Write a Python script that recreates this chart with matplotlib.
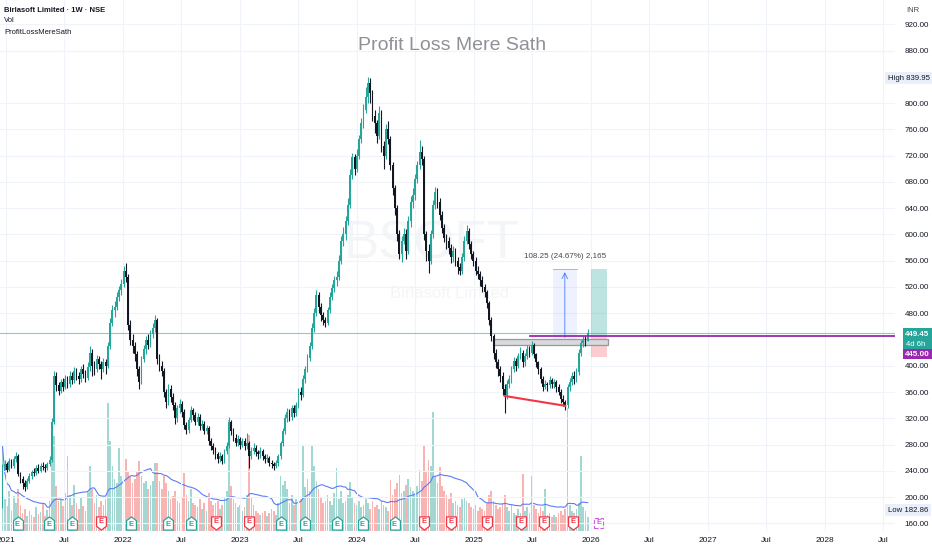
import numpy as np
import pandas as pd
import matplotlib
matplotlib.use('Agg')
import matplotlib.pyplot as plt
import matplotlib.dates as mdates
from matplotlib.path import Path
from matplotlib.patches import Rectangle
from matplotlib.transforms import blended_transform_factory

plt.rcParams['font.family'] = ['Liberation Sans', 'DejaVu Sans']

# Candles semanais (BSOFT, NSE)
semanas = pd.date_range('2020-12-21', periods=262, freq='W-MON')
abertura_inicial = 205

fechamento = [
    245, 250, 242, 255, 248, 258, 262, 235, 228, 222,
    215, 225, 232, 238, 236, 245, 240, 248, 246, 244,
    250, 256, 315, 385, 370, 362, 375, 368, 380, 372,
    385, 378, 392, 385, 380, 395, 388, 382, 398, 420,
    400, 395, 410, 402, 395, 405, 400, 430, 465, 485,
    490, 505, 515, 525, 545, 535, 462, 440, 430, 418,
    395, 375, 410, 425, 440, 432, 448, 458, 470, 410,
    400, 392, 360, 345, 365, 352, 340, 320, 335, 342,
    330, 310, 302, 318, 332, 325, 315, 322, 308, 312,
    300, 305, 285, 278, 272, 265, 258, 262, 255, 270,
    278, 315, 300, 290, 282, 288, 280, 285, 278, 282,
    262, 270, 275, 268, 265, 270, 262, 258, 260, 252,
    250, 248, 252, 262, 282, 300, 320, 330, 322, 335,
    328, 340, 360, 355, 380, 395, 412, 430, 458, 480,
    508, 490, 478, 470, 465, 485, 505, 518, 530, 535,
    560, 590, 600, 620, 645, 690, 718, 700, 720, 745,
    770, 790, 810, 830, 815, 780, 770, 750, 785, 735,
    720, 760, 745, 705, 670, 640, 600, 570, 590, 600,
    575, 620, 650, 660, 685, 705, 725, 715, 600, 575,
    560, 600, 645, 665, 650, 630, 610, 595, 590, 580,
    565, 575, 560, 550, 545, 565, 590, 605, 585, 570,
    560, 545, 540, 530, 520, 512, 495, 470, 445, 420,
    405, 395, 385, 365, 355, 372, 380, 395, 408, 400,
    415, 420, 405, 415, 425, 420, 432, 418, 405, 395,
    380, 368, 372, 370, 378, 372, 375, 368, 360, 350,
    345, 340, 368, 375, 385, 380, 390, 420, 435, 440,
    438, 449.45,
]

maxima = [
    250, 256, 253, 259, 258, 262, 268, 265, 238, 232,
    226, 229, 236, 242, 244, 249, 250, 252, 253, 250,
    254, 262, 320, 392, 390, 375, 380, 382, 386, 384,
    392, 390, 398, 396, 390, 400, 402, 394, 405, 430,
    425, 408, 416, 415, 408, 412, 410, 436, 472, 492,
    498, 512, 522, 532, 552, 556, 540, 470, 448, 436,
    422, 400, 415, 432, 446, 448, 454, 465, 477, 472,
    418, 408, 396, 365, 372, 370, 358, 345, 340, 350,
    346, 334, 315, 322, 338, 336, 330, 328, 326, 318,
    316, 310, 308, 290, 282, 276, 268, 268, 265, 274,
    284, 322, 318, 305, 296, 294, 292, 290, 290, 298,
    286, 276, 282, 280, 272, 276, 274, 266, 265, 263,
    256, 254, 256, 266, 286, 305, 326, 336, 334, 340,
    340, 345, 366, 368, 386, 400, 418, 436, 465, 488,
    515, 512, 495, 482, 475, 490, 512, 524, 536, 545,
    568, 598, 612, 628, 655, 700, 724, 722, 730, 752,
    778, 798, 825, 840, 838, 820, 790, 775, 795, 790,
    742, 768, 772, 750, 710, 676, 645, 606, 598, 610,
    608, 628, 658, 670, 692, 712, 744, 735, 720, 605,
    585, 606, 652, 672, 670, 656, 636, 616, 600, 596,
    585, 582, 580, 565, 556, 572, 598, 614, 610, 590,
    575, 565, 552, 545, 536, 525, 516, 498, 474, 448,
    425, 410, 400, 390, 372, 378, 386, 400, 414, 412,
    420, 428, 424, 420, 432, 430, 438, 435, 420, 408,
    398, 384, 378, 376, 384, 382, 380, 378, 372, 364,
    355, 348, 372, 382, 390, 392, 396, 425, 440, 445,
    446, 456,
]

minima = [
    183, 242, 238, 240, 244, 245, 254, 232, 222, 212,
    210, 213, 222, 228, 232, 233, 236, 238, 241, 239,
    241, 247, 254, 312, 362, 355, 358, 362, 364, 366,
    368, 372, 374, 378, 372, 376, 382, 376, 378, 392,
    385, 386, 390, 395, 380, 390, 388, 396, 425, 460,
    475, 485, 498, 508, 520, 528, 455, 432, 420, 408,
    385, 364, 372, 405, 418, 425, 428, 442, 452, 402,
    392, 385, 352, 335, 340, 345, 332, 312, 315, 328,
    322, 304, 296, 298, 314, 318, 310, 310, 302, 304,
    296, 296, 280, 272, 266, 258, 252, 254, 250, 252,
    266, 275, 294, 285, 278, 278, 274, 276, 272, 274,
    244, 258, 266, 262, 258, 260, 256, 252, 254, 248,
    245, 242, 244, 248, 258, 278, 296, 314, 316, 318,
    322, 324, 336, 348, 352, 374, 390, 408, 426, 452,
    476, 480, 468, 462, 459, 462, 480, 500, 512, 522,
    530, 555, 582, 592, 615, 640, 684, 690, 695, 715,
    740, 762, 785, 800, 800, 772, 755, 740, 745, 725,
    700, 715, 738, 698, 660, 630, 590, 562, 558, 585,
    562, 570, 612, 640, 652, 678, 700, 705, 592, 560,
    541, 555, 595, 638, 640, 622, 602, 588, 578, 570,
    556, 558, 552, 540, 538, 540, 560, 585, 578, 562,
    552, 538, 532, 522, 512, 505, 488, 462, 438, 410,
    396, 385, 376, 355, 328, 350, 366, 374, 390, 392,
    396, 410, 398, 400, 410, 414, 416, 412, 398, 388,
    374, 362, 364, 362, 366, 366, 366, 360, 355, 344,
    338, 333, 336, 362, 370, 372, 376, 386, 415, 428,
    430, 438,
]

# Volume semanal (milhões de ações)
volume = [
    8.5, 3.2, 2.5, 4.0, 2.0, 3.5, 2.8, 4.2, 2.6, 1.8,
    2.2, 1.5, 2.0, 1.6, 1.4, 2.4, 1.7, 1.9, 2.8, 1.5,
    2.1, 3.0, 10.8, 9.5, 4.5, 3.0, 3.2, 2.5, 3.8, 7.5,
    3.5, 2.6, 4.6, 2.8, 2.2, 3.4, 2.5, 2.0, 3.9, 6.5,
    4.2, 2.8, 3.6, 2.4, 3.0, 2.6, 3.2, 12.8, 9.0, 6.5,
    5.2, 4.8, 8.3, 5.5, 6.8, 7.2, 6.0, 5.5, 4.8, 5.2,
    6.0, 7.0, 5.5, 4.8, 5.0, 4.2, 4.6, 5.0, 6.8, 6.8,
    5.0, 4.2, 5.5, 4.8, 4.0, 3.2, 3.5, 4.0, 3.0, 2.8,
    3.4, 5.8, 3.6, 3.0, 4.2, 2.8, 2.6, 2.4, 3.2, 2.2,
    2.8, 2.0, 3.8, 3.0, 2.6, 2.8, 3.0, 2.2, 2.6, 3.4,
    4.0, 11.1, 4.5, 3.2, 2.8, 2.4, 2.6, 2.0, 2.4, 3.6,
    9.6, 3.4, 2.6, 2.0, 1.8, 1.6, 1.8, 2.0, 1.5, 1.8,
    2.2, 2.0, 1.6, 2.8, 5.5, 4.6, 5.0, 4.2, 2.8, 3.6,
    2.6, 3.2, 4.8, 3.2, 8.5, 4.4, 5.2, 4.0, 8.5, 6.5,
    5.0, 4.2, 3.4, 2.8, 3.0, 3.6, 3.0, 2.6, 3.8, 6.3,
    3.2, 4.0, 2.8, 3.0, 3.6, 4.9, 3.4, 2.8, 2.6, 3.0,
    2.4, 2.6, 3.2, 2.8, 2.2, 3.0, 2.4, 2.6, 2.2, 3.0,
    2.6, 2.4, 2.0, 5.1, 3.6, 4.2, 4.8, 5.6, 3.8, 4.0,
    4.6, 5.2, 4.4, 4.0, 3.8, 4.5, 6.1, 5.0, 8.6, 6.0,
    7.1, 6.5, 11.9, 5.5, 4.8, 6.4, 4.5, 4.0, 3.6, 3.2,
    3.8, 2.8, 3.0, 2.6, 2.4, 3.2, 3.4, 3.0, 2.8, 2.4,
    2.2, 2.6, 2.0, 2.4, 2.2, 2.0, 2.8, 3.6, 4.0, 3.0,
    2.6, 2.2, 2.4, 2.8, 3.6, 2.4, 2.0, 2.6, 1.8, 1.6,
    2.2, 1.8, 5.7, 2.0, 2.4, 1.8, 5.5, 2.6, 2.2, 1.8,
    2.4, 2.0, 4.2, 1.6, 1.8, 1.4, 1.6, 1.4, 1.8, 2.0,
    1.6, 2.2, 12.3, 2.6, 2.0, 1.8, 2.2, 2.8, 7.5, 2.4,
    2.0, 1.4,
]

# Marcadores de resultados (E)
datas_resultado = ['2021-02-06', '2021-05-15', '2021-07-26', '2021-10-26', '2022-01-26',
                   '2022-05-21', '2022-08-01', '2022-10-20', '2023-01-31', '2023-05-09',
                   '2023-07-23', '2023-10-30', '2024-01-19', '2024-04-28', '2024-07-29',
                   '2024-10-21', '2025-02-10', '2025-05-27', '2025-08-07', '2025-11-06']
resultado_bom = [1, 1, 1, 0, 1, 1, 1, 0, 0, 1, 1, 1, 1, 1, 0, 0, 0, 0, 0, 0]
proximo_resultado = '2026-01-26'

ticks_preco = [160, 200, 240, 280, 320, 360, 400, 480, 520, 560, 600, 640, 680,
               720, 760, 800, 880, 920]
ticks_tempo = ['2021-01-01', '2021-07-01', '2022-01-01', '2022-07-01', '2023-01-01',
               '2023-07-01', '2024-01-01', '2024-07-01', '2025-01-01', '2025-07-01',
               '2026-01-01', '2026-07-01', '2027-01-01', '2027-07-01', '2028-01-01',
               '2028-07-01']
rotulos_tempo = ['2021', 'Jul', '2022', 'Jul', '2023', 'Jul', '2024', 'Jul', '2025', 'Jul',
                 '2026', 'Jul', '2027', 'Jul', '2028', 'Jul']

preco_atual = 449.45
alerta = 445.00
maxima_visivel = 839.95
minima_visivel = 182.86

VERDE = '#26a69a'
PRETO = '#131722'
ROXO = '#9c27b0'

fig = plt.figure(figsize=(9.32, 5.5), dpi=100)
rect = [0, 19 / 550, 895 / 932, 531 / 550]
ax_v = fig.add_axes(rect)
ax = fig.add_axes(rect)
ax.patch.set_visible(False)

x = mdates.date2num(semanas)
c = np.array(fechamento, dtype=float)
o = np.r_[abertura_inicial, c[:-1]]
sobe = c >= o
x0 = mdates.date2num(pd.Timestamp('2021-01-01'))
xlim = (x0 - 18.7, x0 + 2775.3)

# Volume por baixo
cores_vol = np.where(sobe, '#a3d8d2', '#f8b4b2')
ax_v.bar(x, volume, width=5.2, color=cores_vol, lw=0)
media_vol = pd.Series(volume).rolling(20, min_periods=1).mean()
ax_v.plot(x, media_vol, color='#5b7cf5', lw=0.8)
ax_v.set_xlim(*xlim)
ax_v.set_ylim(0, 53)
ax_v.set_axis_off()

# Candles
cores = np.where(sobe, VERDE, PRETO)
ax.vlines(x, minima, maxima, colors=cores, lw=0.8, zorder=3)
ax.bar(x, np.maximum(np.abs(c - o), 0.8), bottom=np.minimum(o, c), width=5.6,
       color=cores, lw=0, zorder=3)

ax.set_xlim(*xlim)
ax.set_ylim(148.4, 957.0)

# Desenhos
ax.axhline(preco_atual, color=VERDE, lw=0.8, alpha=0.55, zorder=2)
z0 = mdates.date2num(pd.Timestamp('2025-03-01'))
z1 = mdates.date2num(pd.Timestamp('2026-02-23'))
ax.add_patch(Rectangle((z0, 432), z1 - z0, 9, fc='#d8d9dc', ec='#9598a1', lw=0.9, zorder=2))
ax.plot([mdates.date2num(pd.Timestamp('2025-06-25')), xlim[1]], [alerta, alerta],
        color=ROXO, lw=1.3, zorder=4)
ax.plot(mdates.date2num(pd.to_datetime(['2025-04-07', '2025-10-13'])), [354, 339],
        color='#f23645', lw=1.5, zorder=4)

m0 = mdates.date2num(pd.Timestamp('2025-09-04'))
m1 = mdates.date2num(pd.Timestamp('2025-11-18'))
ax.add_patch(Rectangle((m0, 438.8), m1 - m0, 108.25, fc='#2962ff', alpha=0.08, lw=0, zorder=1))
ax.plot([m0, m1], [547.05, 547.05], color='#2962ff', lw=0.6, alpha=0.5, zorder=2)
mm = (m0 + m1) / 2
ax.annotate('', xy=(mm, 547.05), xytext=(mm, 438.8),
            arrowprops=dict(arrowstyle='->', color='#2962ff', lw=0.7, alpha=0.7), zorder=2)
ax.text(mm, 566, '108.25 (24.67%) 2,165', ha='center', va='center', fontsize=5.8,
        color='#434651')

l0 = mdates.date2num(pd.Timestamp('2026-01-01'))
l1 = mdates.date2num(pd.Timestamp('2026-02-20'))
ax.add_patch(Rectangle((l0, 444.5), l1 - l0, 102.5, fc=VERDE, alpha=0.3, lw=0, zorder=1))
ax.add_patch(Rectangle((l0, 413.5), l1 - l0, 31, fc='#f23645', alpha=0.25, lw=0, zorder=1))

# Marcas d'água e título
ax.text(432 / 895, 1 - 245 / 531, 'BSOFT', transform=ax.transAxes, ha='center', va='center',
        fontsize=38, color='#f4f5f7', zorder=0)
ax.text(450 / 895, 1 - 293 / 531, 'Birlasoft Limited', transform=ax.transAxes, ha='center',
        va='center', fontsize=12, color='#f4f5f7', zorder=0)
ax.text(452 / 895, 1 - 45 / 531, 'Profit Loss Mere Sath', transform=ax.transAxes, ha='center',
        va='center', fontsize=14, color='#8f9197')

# Marcadores E
trans = blended_transform_factory(ax.transData, ax.transAxes)
casa_cima = Path([(-0.45, -0.6), (0.45, -0.6), (0.45, 0.25), (0, 0.6), (-0.45, 0.25), (-0.45, -0.6)],
                 [1, 2, 2, 2, 2, 79])
casa_baixo = Path([(-0.45, 0.6), (0.45, 0.6), (0.45, -0.25), (0, -0.6), (-0.45, -0.25), (-0.45, 0.6)],
                  [1, 2, 2, 2, 2, 79])
for d, bom in zip(datas_resultado, resultado_bom):
    xd = mdates.date2num(pd.Timestamp(d))
    cor = VERDE if bom else '#f23645'
    ax.plot([xd], [0.0151], marker=casa_cima if bom else casa_baixo, ms=9.5, mfc='white',
            mec=cor, mew=0.9, transform=trans, clip_on=False, zorder=5)
    ax.text(xd, 0.0151 - (0.002 if bom else -0.002), 'E', transform=trans, ha='center',
            va='center', fontsize=5.5, color=cor, fontweight='bold', zorder=6)
ax.text(mdates.date2num(pd.Timestamp(proximo_resultado)), 0.0151, 'E', transform=trans,
        ha='center', va='center', fontsize=5.5, color='#d05ce3', fontweight='bold', zorder=6,
        bbox=dict(boxstyle='square,pad=0.25', fc='white', ec='#d05ce3', lw=0.8, ls='--'))

# Eixos
for s in ax.spines.values():
    s.set_visible(False)
ax.yaxis.tick_right()
ax.set_yticks(ticks_preco)
ax.set_yticklabels([f'{v:.2f}' for v in ticks_preco])
ax.set_xticks(mdates.date2num(pd.to_datetime(ticks_tempo)))
ax.set_xticklabels(rotulos_tempo)
ax.tick_params(axis='y', length=0, pad=7, labelsize=5.8, labelcolor=PRETO)
ax.tick_params(axis='x', length=0, pad=4, labelsize=6, labelcolor=PRETO)
ax.grid(True, color='#f0f3fa', lw=0.8)
ax.set_axisbelow(True)

# Textos do cabeçalho e rótulos de preço
fig.text(4 / 932, 1 - 10 / 550, 'Birlasoft Limited · 1W · NSE', fontsize=5.5, color=PRETO,
         va='center', fontweight='bold')
fig.text(4 / 932, 1 - 21 / 550, 'Vol', fontsize=5.5, color=PRETO, va='center')
fig.text(4 / 932, 1 - 33 / 550, 'ProfitLossMereSath', fontsize=5.5, color=PRETO, va='center')
fig.text(913 / 932, 1 - 10 / 550, 'INR', fontsize=5.5, color='#434651', va='center', ha='center')

fig.text(888 / 932, 1 - 78 / 550, f'High {maxima_visivel:.2f}', fontsize=5.6, color=PRETO,
         va='center', bbox=dict(boxstyle='square,pad=0.35', fc='#e9f0fb', ec='none'))
fig.text(888 / 932, 1 - 510 / 550, f'Low {minima_visivel:.2f}', fontsize=5.6, color=PRETO,
         va='center', bbox=dict(boxstyle='square,pad=0.35', fc='#e9f0fb', ec='none'))

fig.patches.append(Rectangle((903 / 932, 1 - 349 / 550), 29 / 932, 21 / 550, fc=VERDE, lw=0,
                             transform=fig.transFigure, figure=fig))
fig.patches.append(Rectangle((903 / 932, 1 - 359 / 550), 29 / 932, 10 / 550, fc=ROXO, lw=0,
                             transform=fig.transFigure, figure=fig))
fig.text(917 / 932, 1 - 334 / 550, f'{preco_atual:.2f}', fontsize=5.8, color='white',
         ha='center', va='center', fontweight='bold')
fig.text(916 / 932, 1 - 344 / 550, '4d 6h', fontsize=5.5, color='white', ha='center', va='center')
fig.text(917 / 932, 1 - 354 / 550, f'{alerta:.2f}', fontsize=5.8, color='white',
         ha='center', va='center', fontweight='bold')

fig.savefig('out.png', dpi=100)
